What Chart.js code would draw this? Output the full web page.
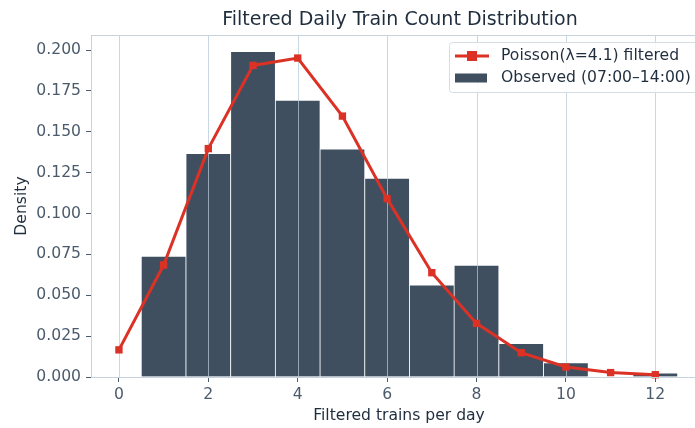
<!DOCTYPE html>
<html>
<head>
<meta charset="utf-8">
<script src="https://cdn.jsdelivr.net/npm/chart.js@4.4.1/dist/chart.umd.min.js"></script>
<style>
  html, body { margin: 0; padding: 0; background: #ffffff; overflow: hidden; }
  #wrap { width: 695px; height: 428px; }
</style>
</head>
<body>
<div id="wrap"><canvas id="chart" width="695" height="428"></canvas></div>
<script>
// Observed histogram (density per integer bin, bins centred on 1..12)
const binCenters = [1, 2, 3, 4, 5, 6, 7, 8, 9, 10, 11, 12];
const observedDensity = [0.0738, 0.1366, 0.1990, 0.1692, 0.1394, 0.1215, 0.0563, 0.0683, 0.0204, 0.0086, 0.0, 0.0024];

// Fitted Poisson probabilities, k = 0..12
const poissonK = [0, 1, 2, 3, 4, 5, 6, 7, 8, 9, 10, 11, 12];
const poissonDensity = [0.0166, 0.0685, 0.1397, 0.1906, 0.1951, 0.1596, 0.1091, 0.0638, 0.0328, 0.0149, 0.0061, 0.0027, 0.0014];

// Tick labels
const xTickValues = [0, 2, 4, 6, 8, 10, 12];
const yTickValues = [0, 0.025, 0.05, 0.075, 0.1, 0.125, 0.15, 0.175, 0.2];

const titleText = 'Filtered Daily Train Count Distribution';
const xTitle = 'Filtered trains per day';
const yTitle = 'Density';
const lineLabel = 'Poisson(λ=4.1) filtered';
const barLabel = 'Observed (07:00–14:00)';

const FONT = '"DejaVu Sans", Verdana, sans-serif';
const RED = '#dc3125';
const BAR = '#3f4f60';
const SPINE = '#c6d3df';
const GRID = 'rgba(181,200,216,0.73)';
const TEXT_DARK = '#1f2d3d';
const TEXT_TICK = '#4b5b6c';
const LABEL_SIZE = 15.6;

const decor = {
  id: 'decor',
  beforeDraw(chart) {
    const { ctx, width, height } = chart;
    ctx.save();
    ctx.fillStyle = '#ffffff';
    ctx.fillRect(0, 0, width, height);
    ctx.restore();
  },
  afterDatasetDraw(chart, args) {
    // vertical grid sits above the bars but beneath the Poisson line
    if (chart.data.datasets[args.index].type !== 'bar') return;
    const { ctx, chartArea } = chart;
    const xs = chart.scales.x;
    ctx.save();
    ctx.strokeStyle = GRID;
    ctx.lineWidth = 1;
    xTickValues.forEach(v => {
      const px = Math.round(xs.getPixelForValue(v)) + 0.5;
      ctx.beginPath();
      ctx.moveTo(px, chartArea.top);
      ctx.lineTo(px, chartArea.bottom);
      ctx.stroke();
    });
    ctx.restore();
  },
  afterDraw(chart) {
    const { ctx, chartArea, width } = chart;
    ctx.save();
    // top and bottom spines run off the right edge of the canvas
    ctx.strokeStyle = SPINE;
    ctx.lineWidth = 1;
    ctx.beginPath();
    ctx.moveTo(chartArea.left, chartArea.top + 0.5);
    ctx.lineTo(width, chartArea.top + 0.5);
    ctx.moveTo(chartArea.left, Math.round(chartArea.bottom) + 0.5);
    ctx.lineTo(width, Math.round(chartArea.bottom) + 0.5);
    ctx.stroke();

    // title
    ctx.fillStyle = TEXT_DARK;
    ctx.font = '19px ' + FONT;
    ctx.textAlign = 'center';
    ctx.textBaseline = 'alphabetic';
    ctx.fillText(titleText, 400, 25);

    // axis titles
    ctx.font = LABEL_SIZE + 'px ' + FONT;
    ctx.fillText(xTitle, 399, 420);
    ctx.save();
    ctx.translate(26, (chartArea.top + chartArea.bottom) / 2);
    ctx.rotate(-Math.PI / 2);
    ctx.fillText(yTitle, 0, 0);
    ctx.restore();

    // legend
    const lx = 449.5, ly = 42.5, lw = 260, lh = 50;
    ctx.fillStyle = 'rgba(255,255,255,0.85)';
    ctx.strokeStyle = '#d5dde5';
    ctx.lineWidth = 1;
    ctx.beginPath();
    ctx.roundRect(lx, ly, lw, lh, 3);
    ctx.fill();
    ctx.stroke();

    // line entry
    const r1 = 56, r2 = 78;
    ctx.strokeStyle = RED;
    ctx.lineWidth = 3;
    ctx.beginPath();
    ctx.moveTo(455, r1);
    ctx.lineTo(489, r1);
    ctx.stroke();
    ctx.fillStyle = RED;
    ctx.fillRect(472 - 5, r1 - 5, 10, 10);
    // bar entry
    ctx.fillStyle = BAR;
    ctx.fillRect(455, r2 - 4.5, 32, 9);

    ctx.fillStyle = TEXT_DARK;
    ctx.font = LABEL_SIZE + 'px ' + FONT;
    ctx.textAlign = 'left';
    ctx.textBaseline = 'middle';
    ctx.fillText(lineLabel, 501, r1);
    ctx.fillText(barLabel, 501, r2);
    ctx.restore();
  }
};

new Chart(document.getElementById('chart'), {
  type: 'bar',
  data: {
    datasets: [
      {
        type: 'line',
        label: lineLabel,
        data: poissonK.map((k, i) => ({ x: k, y: poissonDensity[i] })),
        borderColor: RED,
        backgroundColor: RED,
        borderWidth: 3,
        pointStyle: 'rect',
        pointRadius: 5.2,
        pointHoverRadius: 5.2,
        pointBorderWidth: 0,
        tension: 0,
        fill: false,
        clip: false,
        order: 1
      },
      {
        type: 'bar',
        label: barLabel,
        data: binCenters.map((c, i) => ({ x: c, y: observedDensity[i] })),
        backgroundColor: BAR,
        borderColor: '#ffffff',
        borderWidth: 0.75,
        borderSkipped: 'bottom',
        barPercentage: 1.0,
        categoryPercentage: 1.0,
        grouped: false,
        order: 2
      }
    ]
  },
  options: {
    responsive: false,
    devicePixelRatio: 1,
    animation: false,
    events: [],
    layout: { padding: { top: 35, left: 0, right: 0, bottom: 0 } },
    plugins: {
      legend: { display: false },
      title: { display: false },
      tooltip: { enabled: false }
    },
    scales: {
      x: {
        type: 'linear',
        offset: false,
        min: -0.625,
        max: 12.772,
        afterFit: s => { s.height = 51; },
        afterBuildTicks: s => { s.ticks = xTickValues.map(v => ({ value: v })); },
        grid: { offset: false, drawOnChartArea: false, drawTicks: true, tickLength: 5, tickColor: '#4b5b6c', tickWidth: 1 },
        border: { display: true, color: SPINE, width: 1 },
        ticks: { color: TEXT_TICK, font: { family: FONT, size: LABEL_SIZE }, padding: 4, maxRotation: 0, autoSkip: false,
                 callback: v => String(v) }
      },
      y: {
        type: 'linear',
        min: 0,
        max: 0.2092,
        afterFit: s => { s.width = 91; },
        afterBuildTicks: s => { s.ticks = yTickValues.map(v => ({ value: v })); },
        grid: { drawOnChartArea: false, drawTicks: true, tickLength: 5, tickColor: '#4b5b6c', tickWidth: 1 },
        border: { display: true, color: SPINE, width: 1 },
        ticks: { color: TEXT_TICK, font: { family: FONT, size: LABEL_SIZE }, padding: 5, autoSkip: false,
                 callback: v => Number(v).toFixed(3) }
      }
    }
  },
  plugins: [decor]
});
</script>
</body>
</html>
